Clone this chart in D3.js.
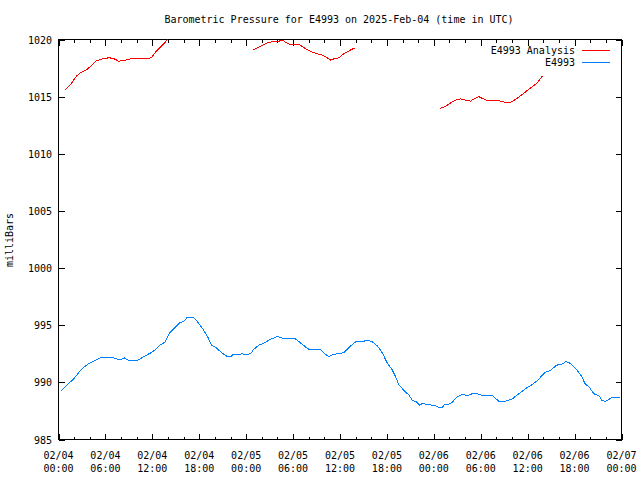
<!DOCTYPE html>
<html><head><meta charset="utf-8">
<script src="https://cdn.jsdelivr.net/npm/d3@7"></script>
<style>
body{margin:0;background:#fff}
svg{display:block}
text{font-family:"DejaVu Sans Mono","Liberation Mono",monospace;font-size:10px;fill:#000}
</style>
</head><body><svg id="c" width="640" height="480"></svg>
<script>
const titleText = "Barometric Pressure for E4993 on 2025-Feb-04 (time in UTC)";
const yLabelText = "milliBars";
const seriesNames = ["E4993 Analysis", "E4993"];
const seriesColors = ["#ff0000", "#0080ff"];
const yTicks = [985, 990, 995, 1000, 1005, 1010, 1015, 1020];
const startTime = Date.UTC(2025, 1, 4, 0);
const endTime = Date.UTC(2025, 1, 7, 0);

// Observed series (hours since 2025-02-04 00:00 UTC, millibars)
const obsHours = [0.29,0.81,1.45,1.88,2.52,3.16,3.80,4.64,5.50,6.78,7.42,7.97,8.40,8.91,10.19,11.04,12.11,12.95,13.59,14.23,15.51,16.15,16.46,17.23,17.65,18.50,19.14,19.57,20.21,20.85,21.49,22.12,22.34,22.98,23.40,23.95,24.55,24.98,25.62,26.47,26.89,27.97,28.81,30.31,30.95,31.59,32.01,32.65,33.51,34.15,34.57,35.21,36.49,37.00,37.56,38.11,38.84,39.48,40.12,40.76,41.40,42.04,42.68,43.10,43.52,44.16,44.80,45.23,45.87,46.17,46.51,47.36,48.21,48.64,49.07,49.36,49.91,50.35,50.90,51.63,52.27,52.91,53.55,54.19,55.46,56.31,57.17,58.02,58.87,59.72,60.36,61.22,62.28,62.92,63.69,64.42,64.84,65.26,65.70,66.34,66.97,67.31,67.91,68.46,69.10,69.53,69.95,70.25,70.81,71.87];
const obsValues = [989.2,989.6,990.0,990.25,990.8,991.3,991.6,991.9,992.2,992.2,992.05,992.0,992.15,991.95,991.95,992.3,992.7,993.25,993.5,994.35,995.2,995.4,995.7,995.7,995.4,994.65,993.9,993.25,993.0,992.6,992.3,992.3,992.45,992.4,992.5,992.45,992.5,992.9,993.25,993.5,993.7,994.0,993.85,993.8,993.45,993.1,992.9,992.85,992.85,992.45,992.25,992.45,992.6,992.95,993.3,993.6,993.55,993.7,993.55,993.2,992.6,991.7,991.1,990.5,989.8,989.3,988.9,988.45,988.25,988.0,988.15,988.05,987.95,987.8,987.8,988.05,988.1,988.25,988.7,988.95,988.85,989.0,989.0,988.85,988.85,988.35,988.35,988.55,989.0,989.45,989.7,990.15,990.9,991.05,991.5,991.6,991.8,991.75,991.5,991.05,990.45,989.9,989.55,989.0,988.85,988.4,988.35,988.45,988.7,988.7];

// Analysis series (null = no data)
const anaHours = [0.77,1.53,2.30,2.81,3.67,4.09,4.86,5.59,6.43,7.00,7.71,8.57,9.21,11.13,11.86,12.40,13.26,13.90,14.60,20.0,24.85,25.41,26.05,26.69,27.33,27.97,28.39,28.74,29.03,29.67,30.18,30.60,30.95,31.59,32.23,33.08,33.72,34.36,34.79,35.21,35.85,36.49,37.25,37.85,43.0,48.76,49.49,50.13,50.77,51.41,52.05,52.69,53.12,53.75,54.19,54.74,55.89,56.53,57.38,57.93,58.65,59.50,60.36,61.22,61.86];
const anaValues = [1015.55,1016.05,1016.8,1017.1,1017.4,1017.65,1018.15,1018.3,1018.4,1018.35,1018.1,1018.2,1018.3,1018.3,1018.4,1018.9,1019.5,1019.95,1020.6,null,1019.1,1019.25,1019.5,1019.7,1019.8,1019.8,1019.9,1019.9,1019.75,1019.55,1019.55,1019.6,1019.5,1019.2,1018.95,1018.75,1018.65,1018.4,1018.2,1018.3,1018.4,1018.75,1019.05,1019.25,null,1013.95,1014.15,1014.45,1014.7,1014.8,1014.7,1014.6,1014.8,1015.0,1014.85,1014.7,1014.7,1014.6,1014.45,1014.55,1014.85,1015.3,1015.75,1016.2,1016.8];

const svg = d3.select("#c");
const L = 58.5, R = 621.5, T = 39.5, B = 439.5;
const HOUR = 3600000;

const x = d3.scaleUtc().domain([new Date(startTime), new Date(endTime)]).range([L, R]);
const y = d3.scaleLinear().domain([985, 1020]).range([B, T]);

const obs = obsHours.map((h, i) => ({t: new Date(startTime + h * HOUR), v: obsValues[i]}));
const ana = anaHours.map((h, i) => ({t: new Date(startTime + h * HOUR), v: anaValues[i]}));

svg.append("defs").append("clipPath").attr("id", "clip")
  .append("rect").attr("x", L).attr("y", T).attr("width", R - L).attr("height", B - T);

// Title
svg.append("text").attr("x", 339).attr("y", 23).attr("text-anchor", "middle").text(titleText);

// Y label
svg.append("text").attr("transform", "translate(13,240) rotate(-90)")
  .attr("text-anchor", "middle").text(yLabelText);

const g = svg.append("g").attr("shape-rendering", "crispEdges");

// Y ticks (left and mirrored right)
yTicks.forEach(v => {
  const yy = Math.round(y(v)) + 0.5;
  g.append("line").attr("x1", L).attr("x2", L + 6).attr("y1", yy).attr("y2", yy).attr("stroke", "#000");
  g.append("line").attr("x1", R - 6).attr("x2", R).attr("y1", yy).attr("y2", yy).attr("stroke", "#000");
  svg.append("text").attr("x", 52).attr("y", yy + 3.5).attr("text-anchor", "end").text(v);
});

// X ticks: minor every 2h, major every 6h
const minor = d3.utcHour.every(2).range(new Date(startTime), new Date(endTime + 1));
minor.forEach(d => {
  const major = d.getUTCHours() % 6 === 0;
  const len = major ? 6 : 3;
  const xx = Math.round(x(d)) + 0.5;
  g.append("line").attr("x1", xx).attr("x2", xx).attr("y1", B).attr("y2", B - len).attr("stroke", "#000");
  g.append("line").attr("x1", xx).attr("x2", xx).attr("y1", T).attr("y2", T + len).attr("stroke", "#000");
});
const fmtD = d3.utcFormat("%m/%d"), fmtT = d3.utcFormat("%H:%M");
d3.utcHour.every(6).range(new Date(startTime), new Date(endTime + 1)).forEach(d => {
  const xx = x(d);
  svg.append("text").attr("x", xx).attr("y", 458.5).attr("text-anchor", "middle").text(fmtD(d));
  svg.append("text").attr("x", xx).attr("y", 471.5).attr("text-anchor", "middle").text(fmtT(d));
});

// Frame
g.append("rect").attr("x", L).attr("y", T).attr("width", R - L).attr("height", B - T)
  .attr("fill", "none").attr("stroke", "#000");

// Lines
const line = d3.line().defined(d => d.v !== null).x(d => x(d.t)).y(d => y(d.v));
const lg = svg.append("g").attr("clip-path", "url(#clip)").attr("shape-rendering", "crispEdges");
lg.append("path").datum(ana).attr("d", line).attr("fill", "none")
  .attr("stroke", seriesColors[0]).attr("stroke-width", 1);
lg.append("path").datum(obs).attr("d", line).attr("fill", "none")
  .attr("stroke", seriesColors[1]).attr("stroke-width", 1);

// Legend
seriesNames.forEach((n, i) => {
  const yy = 50.5 + i * 12;
  svg.append("text").attr("x", 575).attr("y", yy + 3.5).attr("text-anchor", "end").text(n);
  g.append("line").attr("x1", 582).attr("x2", 610).attr("y1", yy).attr("y2", yy)
    .attr("stroke", seriesColors[i]);
});
</script>
</body></html>
